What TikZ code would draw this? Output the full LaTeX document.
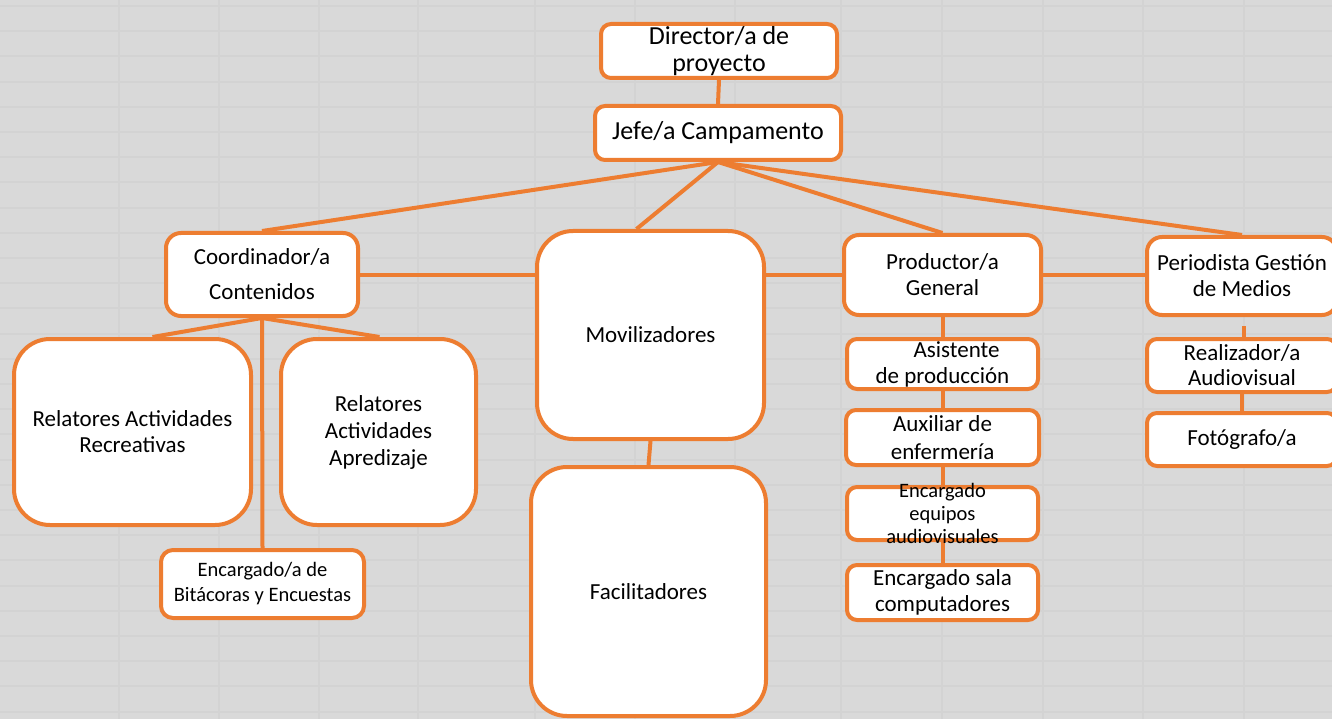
\documentclass[tikz,border=0pt]{standalone}
\usepackage{fontspec}
\setmainfont{Carlito}
\usepackage{xcolor}
\usetikzlibrary{positioning}
\definecolor{orgline}{HTML}{ED7D31}
\definecolor{sheet}{HTML}{D9D9D9}
\definecolor{gridln}{HTML}{D3D3D3}
\tikzset{
  box/.style={rectangle, draw=orgline, fill=white, line width=4pt, rounded corners=10pt, align=center, inner sep=0pt, font=\fontsize{23}{26}\selectfont},
  bigbox/.style={box, rounded corners=36pt},
  conn/.style={draw=orgline, line width=4pt},
}

\begin{document}
\begin{tikzpicture}[x=1pt, y=-1pt]
    % hoja de calculo de fondo
    \useasboundingbox (0,0) rectangle (1332,719);
    \clip (0,0) rectangle (1332,719);
    \fill[sheet] (0,0) rectangle (1332,719);
    \foreach \gx in {119,219,319,418,535,635,735,841,942,1043,1143,1244}
      \draw[gridln, line width=2pt] (\gx,0) -- (\gx,719);
    \foreach \k in {0,...,28}
      \draw[gridln, line width=2pt] (0,6+25.2*\k) -- (1332,6+25.2*\k);

    \node[box, minimum width=236pt, minimum height=54pt, font=\fontsize{26}{27}\selectfont] (dir) at (719,51) {Director/a de\\proyecto};
    \node[box, minimum width=246pt, minimum height=54pt, font=\fontsize{26}{30}\selectfont] (jefe) at (718,133) {Jefe/a Campamento};
    \node[box, rounded corners=15pt, minimum width=192pt, minimum height=83pt, font=\fontsize{23}{35}\selectfont] (coord) at (262,274.5) {Coordinador/a\\Contenidos};
    \node[bigbox, minimum width=227pt, minimum height=208pt] (movil) at (650.5,335) {Movilizadores};
    \node[bigbox, minimum width=235pt, minimum height=249pt] (fac) at (648.5,591.5) {Facilitadores};
    \node[box, rounded corners=15pt, minimum width=197pt, minimum height=80pt] (prod) at (942.5,275) {Productor/a\\General};
    \node[box, rounded corners=15pt, minimum width=190pt, minimum height=78pt] (peri) at (1242,276) {Periodista Gestión\\de Medios};

    % columna de produccion
    \node[box, minimum width=191pt, minimum height=50pt, below=20pt of prod] (asis) {\hspace*{28pt}Asistente\\de producción};
    \node[box, minimum width=193pt, minimum height=55pt, font=\fontsize{23}{28}\selectfont, below=17pt of asis] (aux) {Auxiliar de\\enfermería};
    \node[box, minimum width=191pt, minimum height=53pt, below=18pt of aux] (equip) {};
    \node[box, minimum width=191pt, minimum height=55pt, below=21pt of equip] (sala) {Encargado sala\\computadores};

    % columna de medios
    \node[box, minimum width=190pt, minimum height=53pt, font=\fontsize{23}{25}\selectfont, below=20pt of peri] (real) {Realizador/a\\Audiovisual};
    \node[box, minimum width=190pt, minimum height=53pt, below=17pt of real] (foto) {Fotógrafo/a};

    % contenidos
    \node[bigbox, minimum width=237pt, minimum height=186pt] (rrec) at (132.5,432) {Relatores Actividades\\Recreativas};
    \node[bigbox, minimum width=195pt, minimum height=186pt, font=\fontsize{23}{27}\selectfont] (rapr) at (378.5,432) {Relatores\\Actividades\\Apredizaje};
    \node[box, rounded corners=12pt, minimum width=203pt, minimum height=68pt, font=\fontsize{20.5}{25}\selectfont] (bita) at (262.5,584) {Encargado/a de\\Bitácoras y Encuestas};

    \draw[conn] (dir.south) -- (jefe.north);
    \draw[conn] (jefe.south) -- (coord.north);
    \draw[conn] (jefe.south) -- ([xshift=-14pt]movil.north);
    \draw[conn] (jefe.south) -- (prod.north);
    \draw[conn] (jefe.south) -- (peri.north);
    \draw[conn] (coord.east) -- (coord.east -| movil.west);
    \draw[conn] (prod.west -| movil.east) -- (prod.west);
    \draw[conn] (prod.east) -- (prod.east -| peri.west);
    \draw[conn] (coord.south) -- ([xshift=20pt]rrec.north);
    \draw[conn] (coord.south) -- ([xshift=1pt]rapr.north);
    \draw[conn] (coord.south) -- (bita.north);
    \draw[conn] (movil.south) -- (fac.north);
    \draw[conn] (prod.south) -- (asis.north);
    \draw[conn] (asis.south) -- (aux.north);
    \draw[conn] (aux.south) -- (equip.north);
    \draw[conn] (equip.south) -- (sala.north);
    \coordinate (stub) at ([xshift=2pt, yshift=-9pt]peri.south);
    \draw[conn] (stub) -- (stub |- real.north);
    \draw[conn] (real.south) -- (foto.north);

    % texto que sobresale del recuadro
    \node[align=center, inner sep=0pt, font=\fontsize{20.5}{23}\selectfont] (equiptxt) at (equip) {Encargado\\equipos\\audiovisuales};
  \end{tikzpicture}
\end{document}
